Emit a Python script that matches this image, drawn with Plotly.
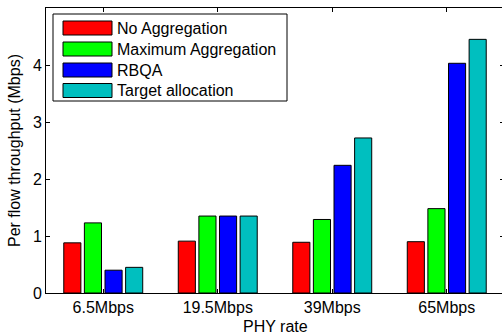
import plotly.graph_objects as go

categories = ["6.5Mbps", "19.5Mbps", "39Mbps", "65Mbps"]
series_names = ["No Aggregation", "Maximum Aggregation", "RBQA", "Target allocation"]
no_aggregation = [0.88, 0.91, 0.89, 0.90]
max_aggregation = [1.23, 1.35, 1.29, 1.48]
rbqa = [0.40, 1.35, 2.24, 4.03]
target_allocation = [0.45, 1.35, 2.72, 4.45]
colors = ["#FF0000", "#00FF00", "#0000FF", "#00BFBF"]

series_values = [no_aggregation, max_aggregation, rbqa, target_allocation]

W, H = 504, 336
L, T, R, B = 46, 8, 0, 43
PW, PH = W - L - R, H - T - B

fig = go.Figure()
for name, vals, col in zip(series_names, series_values, colors):
    fig.add_trace(go.Bar(
        x=categories, y=vals, name=name,
        marker=dict(color=col, line=dict(color="black", width=1)),
        showlegend=False,
    ))

font = dict(family="Liberation Sans, Arial, sans-serif", size=16, color="black")

# custom legend (MATLAB style) drawn in paper coordinates
def px(x):
    return (x - L) / PW

def py(y):
    return (H - B - y) / PH

shapes = [dict(type="rect", xref="paper", yref="paper",
               x0=px(53), x1=px(287), y0=py(101), y1=py(14),
               line=dict(color="black", width=1), fillcolor="white", layer="above")]
annotations = []
rows = [28, 49, 70, 90.5]
for name, col, yc in zip(series_names, colors, rows):
    shapes.append(dict(type="rect", xref="paper", yref="paper",
                       x0=px(63), x1=px(112), y0=py(yc + 7), y1=py(yc - 7),
                       line=dict(color="black", width=1), fillcolor=col, layer="above"))
    annotations.append(dict(xref="paper", yref="paper", x=px(115), y=py(yc),
                            text=name, showarrow=False, xanchor="left", yanchor="middle",
                            font=font))

# x-axis title placed precisely
annotations.append(dict(xref="paper", yref="paper", x=0.5, y=py(326),
                        text="PHY rate", showarrow=False, xanchor="center",
                        yanchor="middle", font=font))

fig.update_layout(
    width=W, height=H,
    margin=dict(l=L, r=R, t=T, b=B, autoexpand=False),
    paper_bgcolor="white", plot_bgcolor="white",
    barmode="group", bargap=0.28, bargroupgap=0.17,
    font=font,
    shapes=shapes, annotations=annotations,
    showlegend=False,
)
fig.update_xaxes(
    showline=True, linecolor="black", linewidth=1, mirror="ticks",
    ticks="inside", ticklen=4, tickcolor="black",
    showgrid=False, tickfont=font, automargin=False,
)
fig.update_yaxes(
    title=dict(text="Per flow throughput (Mbps)", font=font, standoff=8),
    range=[0, 5], tickvals=[0, 1, 2, 3, 4, 5],
    showline=True, linecolor="black", linewidth=1, mirror="ticks",
    ticks="inside", ticklen=4, tickcolor="black",
    showgrid=False, zeroline=False, tickfont=font, automargin=False,
)

fig.write_html(
    "out.html",
    config={"displayModeBar": False, "staticPlot": True},
    post_script="document.body.style.margin='0';document.body.style.overflow='hidden';",
)
